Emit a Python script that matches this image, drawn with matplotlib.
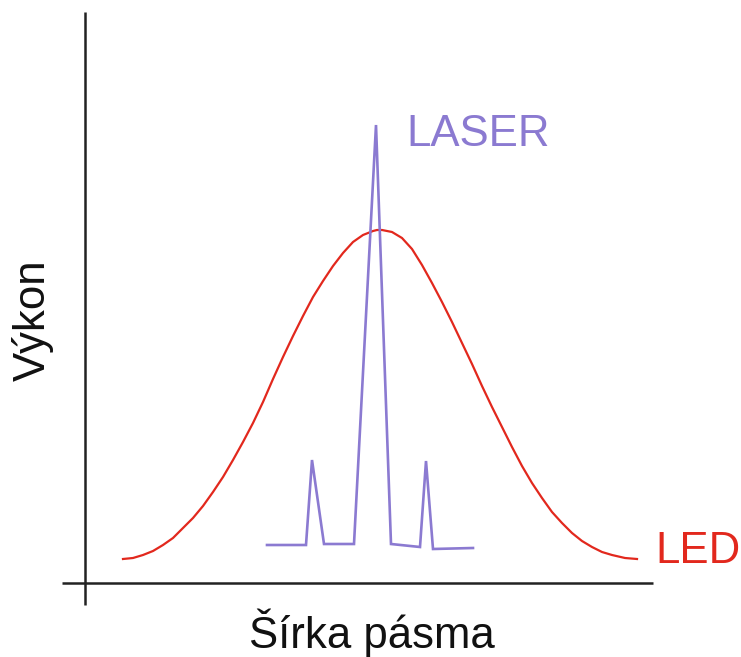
import matplotlib
matplotlib.use("Agg")
import matplotlib.pyplot as plt

# LED spectrum (arbitrary units: bandwidth, power)
led_x = [38, 48, 58, 68, 78, 88, 98, 108, 118, 128, 138, 148, 158, 168, 178, 188,
         198, 208, 218, 228, 238, 248, 258, 268, 278, 288, 292,
         297, 307, 317, 327, 337, 347, 357, 367, 377, 387, 397, 407, 417, 427,
         437, 447, 457, 467, 477, 487, 497, 507, 517, 527, 540, 552]
led_y = [24, 25, 28, 32, 38, 45, 55, 65, 77, 91, 106, 123, 141, 160, 181, 204,
         226, 247, 267, 286, 302, 317, 330, 341, 348, 352, 353,
         353, 351, 345, 334, 318, 300, 281, 261, 240, 219, 197, 176, 156, 136,
         117, 100, 85, 71, 60, 50, 42, 36, 31, 28, 25, 24]

# LASER spectrum
laser_x = [182, 221, 227, 239, 269, 291, 306, 335, 341, 348, 388]
laser_y = [38, 38, 123, 39, 39, 458, 39, 36, 122, 34, 35]

x_label = "Šírka pásma"
y_label = "Výkon"
laser_label = "LASER"
led_label = "LED"

red = "#e2281d"
purple = "#8b7ad1"
axis_col = "#222222"
font = "Liberation Sans"
fs = 31.5

fig = plt.figure(figsize=(7.41, 6.57), dpi=100)
ax = fig.add_axes([0, 0, 1, 1])
ax.set_xlim(-85, 656)
ax.set_ylim(-74, 583)
ax.axis("off")

# axes lines
ax.plot([0, 0], [-22, 571], color=axis_col, lw=1.8, solid_capstyle="butt")
ax.plot([-23, 568], [0, 0], color=axis_col, lw=1.8, solid_capstyle="butt")

ax.plot(led_x, led_y, color=red, lw=1.6, solid_joinstyle="round")
ax.plot(laser_x, laser_y, color=purple, lw=1.9, solid_joinstyle="miter")

ax.text(321, 437, laser_label, color=purple, fontsize=fs, family=font,
        ha="left", va="baseline")
ax.text(570, 20, led_label, color=red, fontsize=fs, family=font,
        ha="left", va="baseline")
ax.text(286.5, -65, x_label, color="#111111", fontsize=fs, family=font,
        ha="center", va="baseline")
ax.text(-52, 263, y_label, color="#111111", fontsize=fs, family=font,
        ha="center", va="center", rotation=90)

fig.savefig("out.png", dpi=100)
